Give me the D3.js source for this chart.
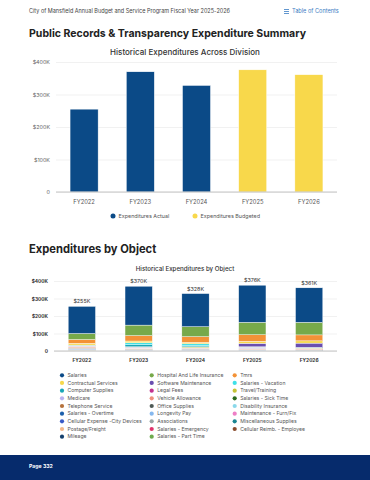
<!DOCTYPE html>
<html>
<head>
<meta charset="utf-8">
<script src="https://cdn.jsdelivr.net/npm/d3@7"></script>
<style>
  html, body { margin: 0; padding: 0; background: #fff; }
  svg { display: block; font-family: Inter, "Open Sans", sans-serif; }
</style>
</head>
<body>
<div id="chart"></div>
<script>
// ---- data ----
const years = ["FY2022", "FY2023", "FY2024", "FY2025", "FY2026"];

// division totals (thousands)
const divisionValues = [255, 370, 328, 376, 361];
const divisionType = ["Actual", "Actual", "Actual", "Budgeted", "Budgeted"];
const divisionLegend = ["Expenditures Actual", "Expenditures Budgeted"];
const divisionTicks = [0, 100, 200, 300, 400];

// objects in stacking order (top of stack first)
const objects = [
  "Salaries", "Hospital And Life Insurance", "Tmrs",
  "Contractual Services", "Software Maintenance", "Salaries - Vacation",
  "Computer Supplies", "Legal Fees", "Travel/Training",
  "Medicare", "Vehicle Allowance", "Salaries - Sick Time",
  "Telephone Service", "Office Supplies", "Disability Insurance",
  "Salaries - Overtime", "Longevity Pay", "Maintenance - Furn/Fix",
  "Cellular Expense -City Devices", "Associations", "Miscellaneous Supplies",
  "Postage/Freight", "Salaries - Emergency", "Cellular Reimb. - Employee",
  "Mileage", "Salaries - Part Time"
];
const objectColors = [
  "#0b4a87", "#77a94a", "#f39237",
  "#f7d84b", "#6a4eb0", "#3fe0e8",
  "#1aa6b7", "#c2328f", "#c5c337",
  "#b9b2f0", "#ef8f7c", "#2b6b1e",
  "#b5723d", "#4f5a55", "#8ad8ea",
  "#1c5fab", "#86b8ee", "#ee7fc6",
  "#3a5bc7", "#9aa5a5", "#1b8591",
  "#f5b88a", "#e0336b", "#8a4c2e",
  "#14406e", "#6faa4e"
];
// thousands per year, same order as objects
const fy2022 = [155, 34, 22, 10, 0, 0, 2, 0, 3, 3, 6, 0, 4, 2, 1, 3, 1, 0, 2, 1, 1, 3, 0, 0, 0, 2];
const fy2023 = [222, 60, 31, 10, 0, 11, 12, 0, 2, 6, 4, 0, 2, 2, 1, 2, 1, 0, 1, 1, 0, 1, 0, 0, 0, 1];
const fy2024 = [189, 57, 33, 8, 0, 11, 6, 0, 5, 3, 3, 0, 2, 2, 1, 3, 1, 0, 1, 1, 0, 1, 0, 0, 0, 1];
const fy2025 = [212, 71, 38, 11, 20, 0, 2, 1, 3, 4, 4, 0, 2, 2, 1, 2, 1, 0, 1, 1, 0, 0, 0, 0, 0, 0];
const fy2026 = [197, 72, 34, 13, 24, 0, 2, 1, 3, 4, 4, 0, 1, 2, 1, 0, 1, 0, 1, 1, 0, 0, 0, 0, 0, 0];
const objectTicks = [0, 100, 200, 300, 400];

const NAVY = "#0b4a87";
const YELLOW = "#f8d84b";

const W = 370, H = 480;
const svg = d3.select("#chart").append("svg")
  .attr("width", W).attr("height", H);

const fmtK = v => v === 0 ? "0" : `$${v}K`;

// ---- page header ----
svg.append("text")
  .attr("x", 29).attr("y", 13)
  .attr("font-size", 5.5).attr("fill", "#444")
  .text("City of Mansfield Annual Budget and Service Program Fiscal Year 2025-2026");

const toc = svg.append("g").attr("fill", "#3b7dc4");
[0, 2, 4].forEach(dy => toc.append("rect").attr("x", 284).attr("y", 9 + dy).attr("width", 5).attr("height", 0.8));
toc.append("text").attr("x", 292).attr("y", 13).attr("font-size", 5.6).text("Table of Contents");

svg.append("text")
  .attr("x", 29).attr("y", 37)
  .attr("font-size", 11).attr("font-weight", 700).attr("fill", "#222")
  .attr("textLength", 277).attr("lengthAdjust", "spacingAndGlyphs")
  .text("Public Records & Transparency Expenditure Summary");

// ---- chart 1: division totals ----
const x1 = d3.scaleBand().domain(years).range([56, 337]).paddingInner(0.5).paddingOuter(0.25);
const y1 = d3.scaleLinear().domain([0, 400]).range([192, 62]);

svg.append("text")
  .attr("x", 185).attr("y", 55).attr("text-anchor", "middle")
  .attr("font-size", 8).attr("font-weight", 500).attr("fill", "#333")
  .text("Historical Expenditures Across Division");

const g1 = svg.append("g");
g1.append("g")
  .attr("transform", "translate(56,0)")
  .call(d3.axisLeft(y1).tickValues(divisionTicks).tickSize(-281).tickFormat(fmtK).tickPadding(6))
  .call(g => g.select(".domain").remove())
  .call(g => g.selectAll(".tick line").attr("stroke", "#e8e8e8").attr("stroke-width", 0.6))
  .call(g => g.selectAll(".tick text").attr("font-size", 5.4).attr("fill", "#666").attr("font-family", "Inter, sans-serif"));

g1.selectAll("rect.bar")
  .data(years)
  .join("rect")
  .attr("class", "bar")
  .attr("x", d => x1(d))
  .attr("width", x1.bandwidth())
  .attr("y", (d, i) => y1(divisionValues[i]))
  .attr("height", (d, i) => y1(0) - y1(divisionValues[i]))
  .attr("fill", (d, i) => divisionType[i] === "Actual" ? NAVY : YELLOW)
  .attr("stroke", "#fff").attr("stroke-width", 0.5);

g1.append("line")
  .attr("x1", 56).attr("x2", 337).attr("y1", y1(0)).attr("y2", y1(0))
  .attr("stroke", "#c4c4c4").attr("stroke-width", 1);

g1.append("g")
  .attr("transform", `translate(0,${y1(0)})`)
  .call(d3.axisBottom(x1).tickSize(0).tickPadding(8))
  .call(g => g.select(".domain").remove())
  .call(g => g.selectAll(".tick text").attr("font-size", 5.8).attr("fill", "#555").attr("font-family", "Inter, sans-serif"));

const leg1 = svg.append("g");
[[113, NAVY], [195, YELLOW]].forEach(([lx, c], i) => {
  leg1.append("circle").attr("cx", lx).attr("cy", 216).attr("r", 2.5).attr("fill", c);
  leg1.append("text").attr("x", lx + 5.5).attr("y", 218)
    .attr("font-size", 5.4).attr("fill", "#555").text(divisionLegend[i]);
});

// ---- chart 2: by object ----
svg.append("text")
  .attr("x", 29).attr("y", 253)
  .attr("font-size", 11.2).attr("font-weight", 700).attr("fill", "#222")
  .text("Expenditures by Object");

svg.append("text")
  .attr("x", 185).attr("y", 271).attr("text-anchor", "middle")
  .attr("font-size", 6.2).attr("font-weight", 500).attr("fill", "#333")
  .text("Historical Expenditures by Object");

const byYear = [fy2022, fy2023, fy2024, fy2025, fy2026];
const rows = years.map((yr, i) => {
  const r = { year: yr };
  objects.forEach((o, j) => { r[o] = byYear[i][j]; });
  return r;
});
// first object sits on top, so stack in reverse
const stack = d3.stack().keys(objects.slice().reverse());
const series = stack(rows);
const color = d3.scaleOrdinal().domain(objects).range(objectColors);

const x2 = d3.scaleBand().domain(years).range([54, 337]).paddingInner(0.52).paddingOuter(0.25);
const y2 = d3.scaleLinear().domain([0, 400]).range([351, 281]);

const g2 = svg.append("g");
g2.append("g")
  .attr("transform", "translate(54,0)")
  .call(d3.axisLeft(y2).tickValues(objectTicks).tickSize(-283).tickFormat(fmtK).tickPadding(6))
  .call(g => g.select(".domain").remove())
  .call(g => g.selectAll(".tick line").attr("stroke", "#e8e8e8").attr("stroke-width", 0.6))
  .call(g => g.selectAll(".tick text").attr("font-size", 4.8).attr("font-weight", 700).attr("fill", "#333").attr("font-family", "Inter, sans-serif"));

g2.selectAll("g.layer")
  .data(series)
  .join("g")
  .attr("class", "layer")
  .attr("fill", d => color(d.key))
  .selectAll("rect")
  .data(d => d.filter(s => s[1] > s[0]))
  .join("rect")
  .attr("x", d => x2(d.data.year))
  .attr("width", x2.bandwidth())
  .attr("y", d => y2(d[1]))
  .attr("height", d => y2(d[0]) - y2(d[1]))
  .attr("stroke", "#fff").attr("stroke-width", 0.4);

g2.append("line")
  .attr("x1", 54).attr("x2", 337).attr("y1", y2(0)).attr("y2", y2(0))
  .attr("stroke", "#c4c4c4").attr("stroke-width", 1);

const totals = byYear.map(v => d3.sum(v));
g2.selectAll("text.total")
  .data(years)
  .join("text")
  .attr("class", "total")
  .attr("x", d => x2(d) + x2.bandwidth() / 2)
  .attr("y", (d, i) => y2(totals[i]) - 3)
  .attr("text-anchor", "middle")
  .attr("font-size", 5.4).attr("fill", "#333")
  .text((d, i) => fmtK(totals[i]));

g2.append("g")
  .attr("transform", `translate(0,${y2(0)})`)
  .call(d3.axisBottom(x2).tickSize(0).tickPadding(8))
  .call(g => g.select(".domain").remove())
  .call(g => g.selectAll(".tick text").attr("font-size", 4.8).attr("font-weight", 700).attr("fill", "#333").attr("font-family", "Inter, sans-serif"));

// legend: 3 columns, filled row by row
const legCols = [62, 151.7, 234.7];
const leg2 = svg.selectAll("g.leg2")
  .data(objects)
  .join("g")
  .attr("class", "leg2")
  .attr("transform", (d, i) => `translate(${legCols[i % 3]},${375.3 + Math.floor(i / 3) * 7.67})`);
leg2.append("circle").attr("r", 2.1).attr("fill", d => color(d));
leg2.append("text").attr("x", 5.5).attr("y", 1.8)
  .attr("font-size", 5.1).attr("fill", "#555").text(d => d);

// ---- footer ----
svg.append("rect").attr("x", 0).attr("y", 455).attr("width", W).attr("height", 25).attr("fill", "#062b6c");
svg.append("text").attr("x", 29).attr("y", 467.5)
  .attr("font-size", 5.2).attr("font-weight", 700).attr("fill", "#fff").text("Page 332");
</script>
</body>
</html>
